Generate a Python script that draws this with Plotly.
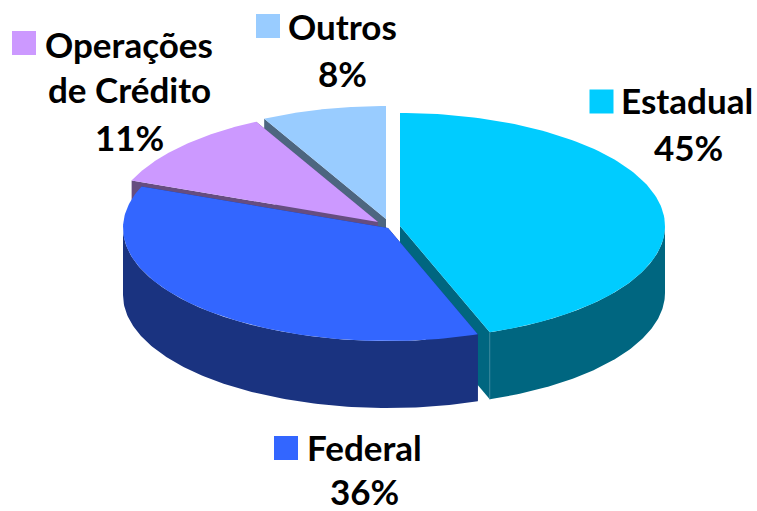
import numpy as np
import plotly.graph_objects as go

categories = ["Estadual", "Federal", "Operações de Crédito", "Outros"]
values = [44.5, 36.5, 11.4, 7.6]
percent_labels = ["45%", "36%", "11%", "8%"]
top_colors = ["#00CCFF", "#3366FF", "#CC99FF", "#99CCFF"]
wall_colors = ["#006680", "#1A3380", "#664D80", "#4D6680"]

W, H = 757, 511
RX, RY, DEPTH = 265, 113, 67
centers = {"Estadual": (400, 226), "Federal": (388, 228),
           "Operações de Crédito": (378, 222), "Outros": (386, 219)}

total = sum(values)
edges = np.cumsum([0] + values) / total * 2 * np.pi


def arc(cx, cy, a0, a1, n=120):
    t = np.linspace(a0, a1, n)
    return cx + RX * np.sin(t), cy - RY * np.cos(t)


fig = go.Figure()


def poly(x, y, color):
    fig.add_trace(go.Scatter(x=list(x), y=list(y), mode="lines", fill="toself",
                             fillcolor=color, line=dict(width=0, color=color),
                             hoverinfo="skip", showlegend=False))


def draw(i):
    name = categories[i]
    cx, cy = centers[name]
    a0, a1 = edges[i], edges[i + 1]
    # radial walls
    for a in (a0, a1):
        ex, ey = cx + RX * np.sin(a), cy - RY * np.cos(a)
        poly([cx, ex, ex, cx, cx], [cy, ey, ey + DEPTH, cy + DEPTH, cy], wall_colors[i])
    # outer wall (front half only)
    lo, hi = max(a0, np.pi / 2), min(a1, 3 * np.pi / 2)
    if hi > lo:
        ax, ay = arc(cx, cy, lo, hi)
        poly(np.r_[ax, ax[::-1], ax[0]], np.r_[ay, ay[::-1] + DEPTH, ay[0]], wall_colors[i])
    # top
    ax, ay = arc(cx, cy, a0, a1)
    poly(np.r_[cx, ax, cx], np.r_[cy, ay, cy], top_colors[i])


for i in (3, 2, 0, 1):
    draw(i)

# thin highlight on the Estadual corner
ex = centers["Estadual"][0] + RX * np.sin(edges[1])
ey = centers["Estadual"][1] - RY * np.cos(edges[1])
fig.add_trace(go.Scatter(x=[ex, ex], y=[ey, ey + DEPTH], mode="lines",
                         line=dict(width=1, color="#338599"),
                         hoverinfo="skip", showlegend=False))

# legend keys
key_pos = [(601.5, 101.5), (286, 448), (24, 43), (268, 26)]
fig.add_trace(go.Scatter(x=[p[0] for p in key_pos], y=[p[1] for p in key_pos], mode="markers",
                         marker=dict(symbol="square", size=24, color=top_colors, line=dict(width=0)),
                         hoverinfo="skip", showlegend=False))

FONT = dict(family="Lato", size=35, color="black")
texts = [
    ("<b>Estadual</b>", 619, 100, "left"),
    ("<b>45%</b>", 688, 147, "center"),
    ("<b>Federal</b>", 305, 447, "left"),
    ("<b>36%</b>", 364, 491, "center"),
    ("<b>Operações</b>", 43, 44, "left"),
    ("<b>de Crédito</b>", 129, 89, "center"),
    ("<b>11%</b>", 129, 137, "center"),
    ("<b>Outros</b>", 286, 26, "left"),
    ("<b>8%</b>", 342, 73, "center"),
]
for t, x, y, anchor in texts:
    fig.add_annotation(x=x, y=y, text=t, xref="x", yref="y", showarrow=False,
                       xanchor=anchor, yanchor="middle", font=FONT)

fig.update_layout(width=W, height=H, margin=dict(l=0, r=0, t=0, b=0),
                  paper_bgcolor="white", plot_bgcolor="white", showlegend=False,
                  xaxis=dict(range=[0, W], visible=False, fixedrange=True),
                  yaxis=dict(range=[H, 0], visible=False, fixedrange=True))
fig.write_html("out.html", config={"displayModeBar": False},
               post_script="document.body.style.margin='0';")
